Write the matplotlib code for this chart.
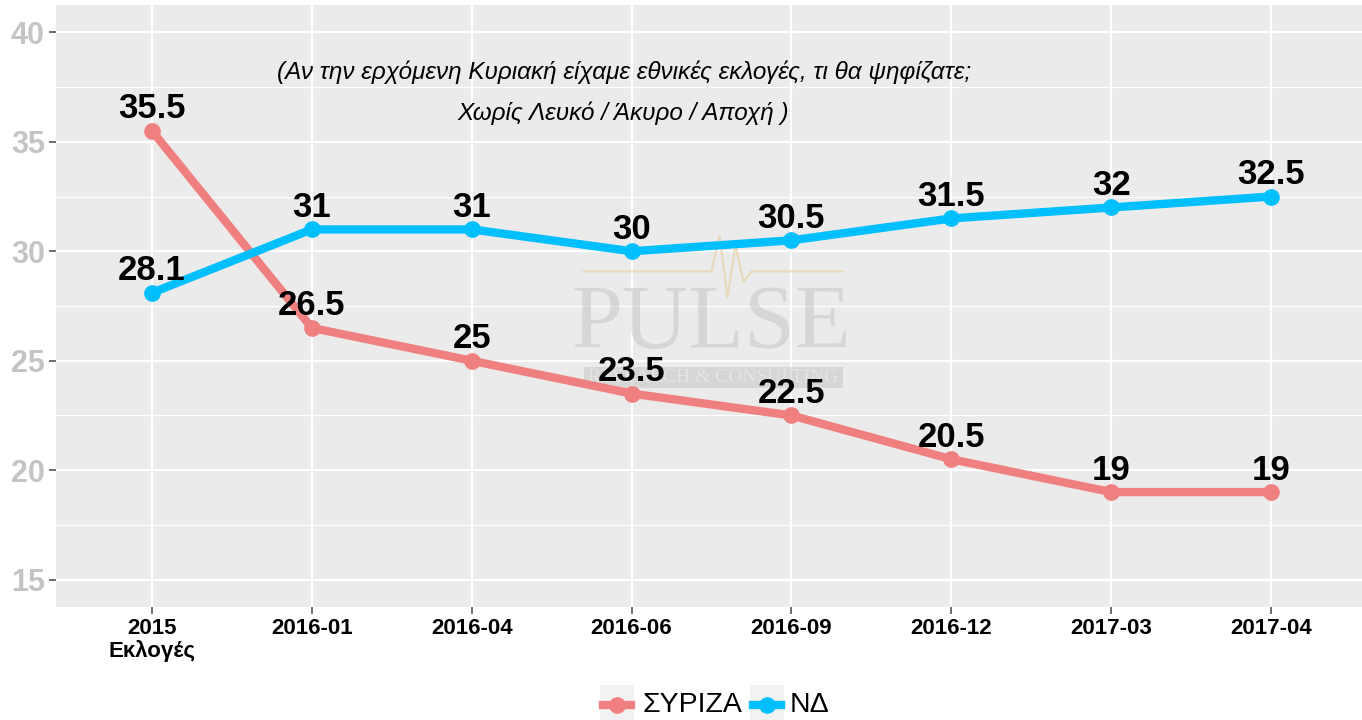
import matplotlib
matplotlib.use("Agg")
import matplotlib.pyplot as plt
from matplotlib.lines import Line2D
from matplotlib.patches import Rectangle

categories = ["2015\nΕκλογές", "2016-01", "2016-04", "2016-06", "2016-09", "2016-12", "2017-03", "2017-04"]
syriza = [35.5, 26.5, 25, 23.5, 22.5, 20.5, 19, 19]
nd = [28.1, 31, 31, 30, 30.5, 31.5, 32, 32.5]
series_names = ["ΣΥΡΙΖΑ", "ΝΔ"]
colors = ["#F08080", "#00BFFF"]
yticks = [15, 20, 25, 30, 35, 40]
subtitle = "(Αν την ερχόμενη Κυριακή είχαμε εθνικές εκλογές, τι θα ψηφίζατε;\nΧωρίς Λευκό / Άκυρο / Αποχή )"

plt.rcParams['font.family'] = ['Liberation Sans', 'DejaVu Sans']

W, H = 1362, 720
fig = plt.figure(figsize=(W / 100, H / 100), dpi=100)
ax = fig.add_axes([56 / W, 113 / H, (1367 - 56) / W, (607 - 5) / H])
ax.set_facecolor("#EBEBEB")
for s in ax.spines.values():
    s.set_visible(False)

x = list(range(len(categories)))
ax.set_xlim(-0.6, len(categories) - 1 + 0.6)
ax.set_ylim(13.75, 41.25)

ax.set_yticks(yticks)
ax.set_yticks([17.5, 22.5, 27.5, 32.5, 37.5], minor=True)
ax.set_xticks(x)
ax.set_xticklabels(categories, fontsize=16, fontweight='bold', color='black', linespacing=1.05)
ax.set_yticklabels([str(v) for v in yticks], fontsize=22, fontweight='bold', color='#C4C4C4')
ax.grid(which='major', color='white', linewidth=1.6)
ax.grid(which='minor', axis='y', color='white', linewidth=0.8)
ax.tick_params(axis='both', which='major', color='#555555', length=5, width=1.2)
ax.tick_params(axis='y', which='minor', length=0)
ax.tick_params(axis='x', pad=3)
ax.tick_params(axis='y', pad=3)
ax.set_axisbelow(True)

# watermark
ax.text(3.5, 26.6, "PULSE", fontsize=66, family=['Liberation Serif', 'DejaVu Serif'],
        color='#BDBDBD', alpha=0.45, ha='center', va='center', zorder=1)
ax.add_patch(Rectangle((2.7, 23.77), 1.62, 0.95, color='#BDBDBD', alpha=0.45, zorder=1, lw=0))
ax.text(3.51, 24.22, "RESEARCH & CONSULTING", fontsize=14, family=['Liberation Serif', 'DejaVu Serif'],
        color='#E6E6E6', alpha=0.9, ha='center', va='center', zorder=1)
ax.plot([2.7, 3.5, 3.55, 3.6, 3.65, 3.7, 3.75, 4.32], [29.08, 29.08, 30.7, 27.9, 30.3, 28.6, 29.08, 29.08],
        color='#E8D5B0', lw=1.5, alpha=0.8, zorder=1)

for vals, c in zip([syriza, nd], colors):
    ax.plot(x, vals, color=c, lw=6, marker='o', markersize=11, zorder=3, solid_capstyle='round')
    for xi, v in zip(x, vals):
        ax.annotate("%g" % v, (xi, v), xytext=(0, 9), textcoords='offset points',
                    ha='center', va='baseline', fontsize=25, fontweight='bold', color='black', zorder=4)

ax.text(2.95, 37.26, subtitle, fontsize=17.5, style='italic', ha='center', va='center',
        linespacing=1.95, color='black')

# legend (ggplot-style keys with grey background)
key_x = [600, 750]
text_x = [642, 790]
for kx, tx, name, c in zip(key_x, text_x, series_names, colors):
    fig.patches.append(Rectangle((kx / W, 0), 34 / W, 35 / H, transform=fig.transFigure,
                                 facecolor='#F2F2F2', edgecolor='none', zorder=1))
    fig.lines.append(Line2D([(kx + 3) / W, (kx + 31) / W], [15 / H, 15 / H], transform=fig.transFigure,
                            color=c, lw=6, zorder=2))
    fig.lines.append(Line2D([(kx + 17) / W], [15 / H], transform=fig.transFigure, color=c,
                            marker='o', markersize=11, lw=0, zorder=3))
    fig.text(tx / W, 15 / H, name, fontsize=20.5, ha='left', va='center', color='black')

fig.savefig("out.png", dpi=100, facecolor='white')
